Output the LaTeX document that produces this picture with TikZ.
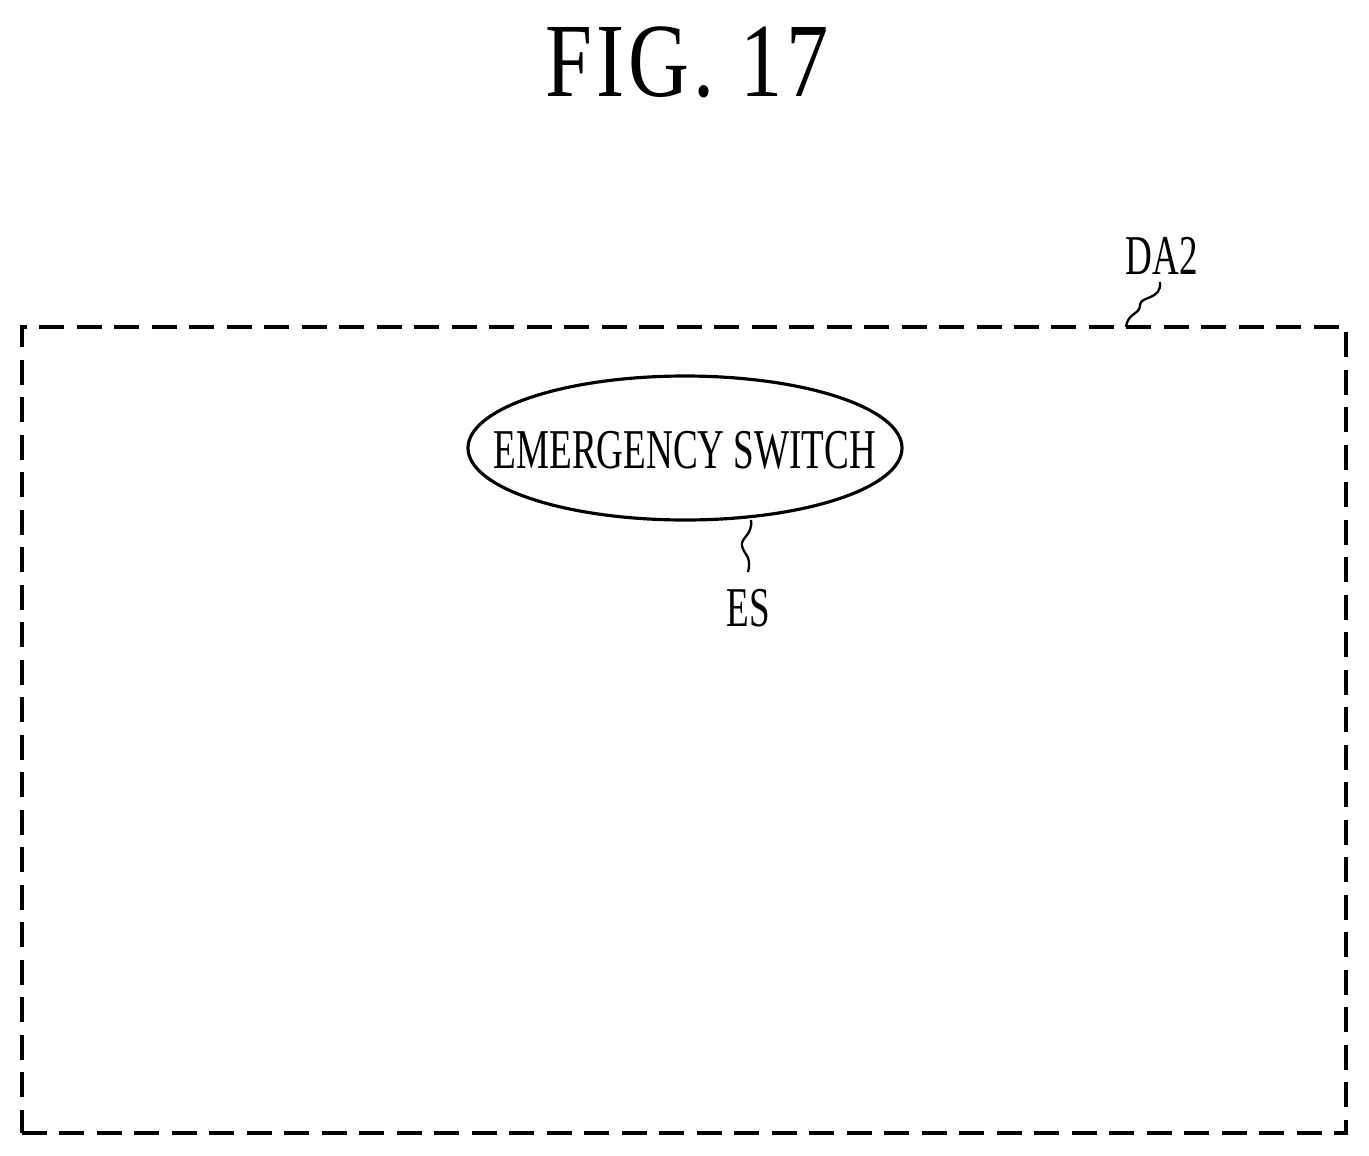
\documentclass[tikz,border=0pt]{standalone}
\usepackage{fontspec}
\setmainfont{Liberation Serif}
\newfontfamily\cond[FakeStretch=0.66]{Liberation Serif}
\newfontfamily\condt[FakeStretch=0.8,LetterSpace=4]{Liberation Serif}
\usetikzlibrary{shapes.geometric}
\begin{document}
\begin{tikzpicture}[x=0.02cm,y=-0.02cm,
  lbl/.style={font=\cond\fontsize{32}{36}\selectfont, inner sep=0},
  dashbox/.style={draw, line width=2.2pt, dash pattern=on 0.5cm off 0.25cm},
  leader/.style={draw, line width=1.3pt}]
\useasboundingbox (0,0) rectangle (1369,1156);
\node[font=\condt\fontsize{60}{64}\selectfont, inner sep=0] (title) at (687,62) {FIG. 17};
\node[dashbox, minimum width=1324*0.02cm, minimum height=806*0.02cm, inner sep=0] (box) at (684,730) {};
\node[draw, ellipse, line width=1.8pt, minimum width=434*0.02cm, minimum height=144*0.02cm, inner sep=0] (es) at (685,448) {};
\node[lbl] (estext) at (685,450) {EMERGENCY SWITCH};
\node[lbl] (da2) at (1162,256) {DA2};
\node[lbl] (eslbl) at (748,608) {ES};
\coordinate (a1) at (1160,282);
\coordinate (a2) at (1126,327);
\draw[leader] (a1) .. controls (1162,300) and (1140,296) .. (1140,305) .. controls (1140,315) and (1128,312) .. (a2);
\coordinate (b1) at (751,520);
\coordinate (b2) at (748,572);
\draw[leader] (b1) .. controls (753,535) and (740,538) .. (742,546) .. controls (744,555) and (752,556) .. (b2);
\end{tikzpicture}
\end{document}
